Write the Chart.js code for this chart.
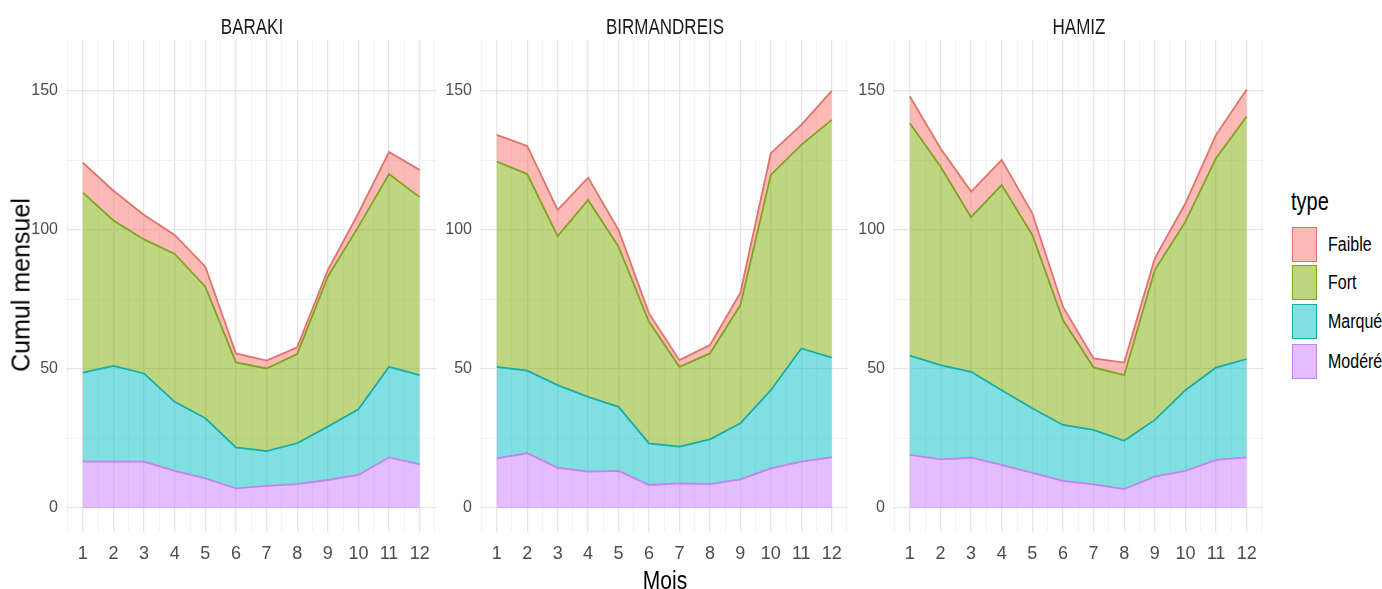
<!DOCTYPE html>
<html>
<head>
<meta charset="utf-8">
<script src="https://cdn.jsdelivr.net/npm/chart.js@4.4.1/dist/chart.umd.min.js"></script>
<style>
  body { margin: 0; background: #fff; }
  #wrap { position: relative; width: 1382px; height: 589px; overflow: hidden; font-family: "Liberation Sans Narrow", "Liberation Sans", Arial, sans-serif; }
  canvas { position: absolute; top: 0; }
  .strip { position: absolute; top: 18px; font-size: 17px; color: #1a1a1a; transform: translateX(-50%) scaleY(1.25); white-space: nowrap; }
  .ytitle { position: absolute; left: 21px; top: 285px; font-family: "Liberation Sans", Arial, sans-serif; font-size: 25px; color: #000; transform: translate(-50%, -50%) rotate(-90deg); white-space: nowrap; }
  .xtitle { position: absolute; left: 665px; top: 580px; font-size: 21px; color: #000; transform: translate(-50%, -50%) scaleY(1.25); }
  .leg-title { position: absolute; left: 1291px; top: 190px; font-size: 20px; color: #000; transform: scaleY(1.25); }
  .key { position: absolute; left: 1292px; width: 25px; height: 35px; box-sizing: border-box; border: 1px solid; }
  .leg-lab { position: absolute; left: 1328px; font-size: 16px; color: #000; transform: translateY(-50%) scaleY(1.25); }
</style>
</head>
<body>
<div id="wrap">
  <canvas id="c1" width="446" height="589" style="left:0px"></canvas>
  <canvas id="c2" width="418" height="589" style="left:440px"></canvas>
  <canvas id="c3" width="420" height="589" style="left:853px"></canvas>
  <div class="strip" style="left:252px">BARAKI</div>
  <div class="strip" style="left:665px">BIRMANDREIS</div>
  <div class="strip" style="left:1079px">HAMIZ</div>
  <div class="ytitle">Cumul mensuel</div>
  <div class="xtitle">Mois</div>
  <div id="legend"></div>
</div>

<script>
// ===============================
// DONNEES
// ===============================

const mois = [1, 2, 3, 4, 5, 6, 7, 8, 9, 10, 11, 12];
const types = ["Faible", "Fort", "Marqué", "Modéré"];
const yTicks = [0, 50, 100, 150];
const stations = ["BARAKI", "BIRMANDREIS", "HAMIZ"];

// BARAKI
const barakiModere = [16.7, 16.7, 16.7, 13.4, 10.7, 7.1, 8.0, 8.6, 10.1, 11.9, 18.2, 15.7];
const barakiMarque = [32.0, 34.4, 31.7, 24.8, 21.6, 14.7, 12.5, 14.7, 19.2, 23.6, 32.6, 32.1];
const barakiFort   = [64.7, 52.3, 48.2, 53.2, 47.3, 30.6, 29.7, 32.1, 53.9, 65.7, 69.3, 64.0];
const barakiFaible = [10.8, 10.7, 8.8, 6.8, 7.2, 3.2, 2.8, 2.4, 2.4, 4.8, 7.9, 9.8];

// BIRMANDREIS
const birmModere = [17.9, 19.7, 14.5, 13.1, 13.4, 8.3, 8.9, 8.6, 10.3, 14.3, 16.7, 18.2];
const birmMarque = [32.9, 29.7, 29.7, 26.9, 23.0, 15.0, 13.2, 16.1, 20.2, 28.1, 40.7, 35.9];
const birmFort   = [73.8, 70.7, 53.6, 70.8, 57.6, 43.7, 28.7, 30.9, 42.5, 77.4, 73.2, 85.5];
const birmFaible = [9.6, 10.1, 9.4, 8.0, 6.0, 3.0, 2.4, 3.0, 4.4, 7.8, 7.2, 10.4];

// HAMIZ
const hamizModere = [19.1, 17.5, 18.1, 15.5, 12.7, 9.8, 8.5, 6.8, 11.3, 13.4, 17.3, 18.2];
const hamizMarque = [35.7, 33.9, 30.9, 26.9, 23.2, 20.1, 19.6, 17.4, 20.4, 29.0, 33.2, 35.4];
const hamizFort   = [83.6, 71.4, 55.6, 73.8, 62.3, 37.7, 22.5, 23.6, 53.9, 60.6, 75.3, 87.2];
const hamizFaible = [9.6, 6.6, 9.2, 9.0, 7.8, 4.8, 3.2, 4.5, 4.2, 6.6, 8.4, 9.7];

// couleurs ggplot (hue)
const couleurs = {
    "Faible": "#F8766D",
    "Fort":   "#7CAE00",
    "Marqué": "#00BFC4",
    "Modéré": "#C77CFF"
};

// bordures un peu plus sombres, comme sur l'original
const bordures = {
    "Faible": "#e0736b",
    "Fort":   "#82a320",
    "Marqué": "#17aea6",
    "Modéré": "#c383f0"
};

function alpha(hex, a) {
    const n = parseInt(hex.slice(1), 16);
    return `rgba(${(n >> 16) & 255}, ${(n >> 8) & 255}, ${n & 255}, ${a})`;
}


// ===============================
// LEGENDE (HTML)
// ===============================

const legend = document.getElementById("legend");
legend.innerHTML = `<div class="leg-title">type</div>`;
const keyTops = [227, 265, 304, 344];
types.forEach((t, i) => {
    legend.innerHTML += `
        <div class="key" style="top:${keyTops[i]}px; background:${alpha(couleurs[t], 0.5)}; border-color:${bordures[t]}"></div>
        <div class="leg-lab" style="top:${keyTops[i] + 18}px">${t}</div>
    `;
});


// ===============================
// GRAPHIQUES
// ===============================

const axisFont = { family: "'Liberation Sans', Arial, sans-serif", size: 16 };
const xFont = { family: "'Liberation Sans Narrow', 'Liberation Sans', Arial, sans-serif", size: 18 };

function makePanel(id, series, yAxisW) {
    // ordre d'empilement : Modéré en bas, Faible en haut
    const order = ["Modéré", "Marqué", "Fort", "Faible"];
    const datasets = order.map((t, i) => ({
        label: t,
        data: mois.map((m, k) => ({ x: m, y: series[t][k] })),
        borderColor: bordures[t],
        backgroundColor: alpha(couleurs[t], 0.5),
        borderWidth: 1.8,
        pointRadius: 0,
        tension: 0,
        fill: i === 0 ? "origin" : "-1"
    }));

    new Chart(document.getElementById(id), {
        type: "line",
        data: { datasets },
        options: {
            responsive: false,
            animation: false,
            layout: { padding: { top: 40, right: 8, bottom: 0, left: 0 } },
            plugins: {
                legend: { display: false },
                tooltip: { enabled: false }
            },
            scales: {
                x: {
                    type: "linear",
                    min: 0.45,
                    max: 12.55,
                    afterBuildTicks: axis => {
                        axis.ticks = [];
                        for (let v = 0.5; v <= 12.5; v += 0.5) axis.ticks.push({ value: v });
                    },
                    afterFit: axis => { axis.height = 57; },
                    border: { display: false },
                    grid: {
                        drawTicks: false,
                        color: c => Number.isInteger(c.tick.value) ? "#e5e5e5" : "#efefef",
                        lineWidth: c => Number.isInteger(c.tick.value) ? 1.3 : 0.8
                    },
                    ticks: {
                        autoSkip: false,
                        maxRotation: 0,
                        padding: 11,
                        color: "#4d4d4d",
                        font: xFont,
                        callback: v => Number.isInteger(v) ? v : ""
                    }
                },
                y: {
                    stacked: true,
                    min: -8.6,
                    max: 168.3,
                    afterBuildTicks: axis => {
                        axis.ticks = [0, 25, 50, 75, 100, 125, 150].map(v => ({ value: v }));
                    },
                    afterFit: axis => { axis.width = yAxisW; },
                    border: { display: false },
                    grid: {
                        drawTicks: false,
                        color: c => yTicks.includes(c.tick.value) ? "#e5e5e5" : "#efefef",
                        lineWidth: c => yTicks.includes(c.tick.value) ? 1.3 : 0.8
                    },
                    ticks: {
                        padding: 8,
                        color: "#4d4d4d",
                        font: axisFont,
                        callback: v => yTicks.includes(v) ? v : ""
                    }
                }
            }
        }
    });
}

makePanel("c1", { "Modéré": barakiModere, "Marqué": barakiMarque, "Fort": barakiFort, "Faible": barakiFaible }, 66);
makePanel("c2", { "Modéré": birmModere, "Marqué": birmMarque, "Fort": birmFort, "Faible": birmFaible }, 40);
makePanel("c3", { "Modéré": hamizModere, "Marqué": hamizMarque, "Fort": hamizFort, "Faible": hamizFaible }, 40);
</script>
</body>
</html>
